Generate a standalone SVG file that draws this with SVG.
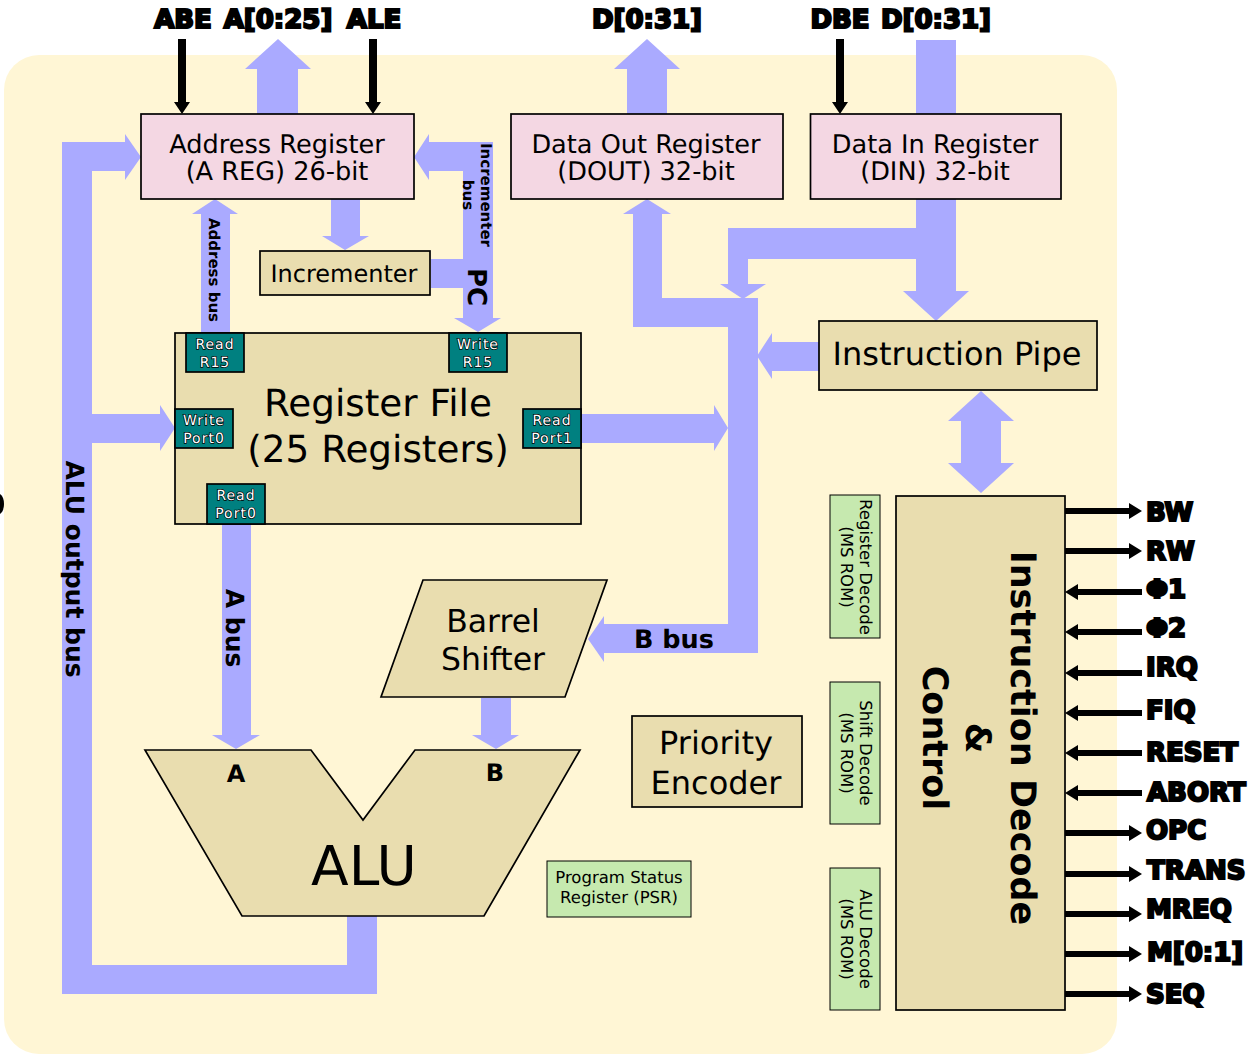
<svg xmlns="http://www.w3.org/2000/svg" width="1250" height="1055" viewBox="0 0 1250 1055">
<style>
text{font-family:"DejaVu Sans",sans-serif;fill:#000;text-anchor:middle;text-rendering:geometricPrecision}
.bus{fill:#aaaaff}
.wire{fill:#000}
.reg{fill:#f4d7e3;stroke:#000;stroke-width:1.7}
.blk{fill:#e9ddaf;stroke:#000;stroke-width:1.7}
.rom{fill:#c6e9af;stroke:#000;stroke-width:1}
.port{fill:#008080;stroke:#000;stroke-width:1.7}
.ptxt{font-size:14px;letter-spacing:1px;fill:#fff;stroke:#000;stroke-width:1.4;paint-order:stroke}
.pin{font-size:26px;font-weight:bold;stroke:#000;stroke-width:2.2}
.pinl{font-size:26px;font-weight:bold;stroke:#000;stroke-width:2.2;text-anchor:start}
.lb{font-size:25.6px}
.lbb{font-weight:bold}
</style>
<rect x="4" y="55" width="1113" height="999" rx="35" fill="#fff6d5"/>
<g id="connectors">
<path class="bus" d="M257 114V69H245L278 39L311 69H298V114Z"/>
<path class="bus" d="M627 114V69H614L647 39L680 69H667V114Z"/>
<path class="bus" d="M916 40H956V291H969L936 321L903 291H916V259H748V284H766L743 299L720 284H728V228H916Z"/>
<path class="bus" d="M62 142H125V134L141 157L125 180V171H92V414H160V405L175 428L160 451V443H92V965H347V916H377V994H62Z"/>
<path class="bus" d="M201 333V214H192L215 199L238 214H230V333Z"/>
<path class="bus" d="M331 199H360V236H369L345 250L322 236H331Z"/>
<path class="bus" d="M493 142V318H501L478 332L454 318H463V288H431V259H463V171H429V180L414 157L429 134V142Z"/>
<path class="bus" d="M222 524H251V735H260L236 749L212 735H222Z"/>
<path class="bus" d="M481 698H511V735H519L496 749L472 735H481Z"/>
<path class="bus" d="M581 414H714V405L728 428L714 451V443H581Z"/>
<path class="bus" d="M633 327V214H623L647 199L671 214H662V298H758V653H604V662L588 639L604 616V624H728V327Z"/>
<path class="bus" d="M819 342V371H772V379L757 356L772 333V342Z"/>
<path class="bus" d="M961 463H948L981 493L1014 463H1001V421H1014L981 391L948 421H961Z"/>
<path class="wire" d="M178 39H186V102H190L182 114L174 102H178Z"/>
<path class="wire" d="M369 39H377V102H381L373 114L365 102H369Z"/>
<path class="wire" d="M836 39H844V102H848L840 114L832 102H836Z"/>
<path class="wire" d="M1065 508H1129V503L1142 511L1129 519V514H1065Z"/>
<path class="wire" d="M1065 548H1129V543L1142 551L1129 559V554H1065Z"/>
<path class="wire" d="M1142 589H1078V584L1065 592L1078 600V595H1142Z"/>
<path class="wire" d="M1142 629H1078V624L1065 632L1078 640V635H1142Z"/>
<path class="wire" d="M1142 670H1078V665L1065 673L1078 681V676H1142Z"/>
<path class="wire" d="M1142 710H1078V705L1065 713L1078 721V716H1142Z"/>
<path class="wire" d="M1142 750H1078V745L1065 753L1078 761V756H1142Z"/>
<path class="wire" d="M1142 790H1078V785L1065 793L1078 801V796H1142Z"/>
<path class="wire" d="M1065 830H1129V825L1142 833L1129 841V836H1065Z"/>
<path class="wire" d="M1065 871H1129V866L1142 874L1129 882V877H1065Z"/>
<path class="wire" d="M1065 911H1129V906L1142 914L1129 922V917H1065Z"/>
<path class="wire" d="M1065 951H1129V946L1142 954L1129 962V957H1065Z"/>
<path class="wire" d="M1065 991H1129V986L1142 994L1129 1002V997H1065Z"/>
</g>
<g id="pins-top">
<text class="pin" x="183" y="28">ABE</text>
<text class="pin" x="278" y="28">A[0:25]</text>
<text class="pin" x="374" y="28">ALE</text>
<text class="pin" x="647" y="28">D[0:31]</text>
<text class="pin" x="840" y="28">DBE</text>
<text class="pin" x="936" y="28">D[0:31]</text>
</g>
<g id="pins-right">
<text class="pinl" x="1146" y="521">BW</text>
<text class="pinl" x="1146" y="560">RW</text>
<text class="pinl" x="1146" y="598">Φ1</text>
<text class="pinl" x="1146" y="637">Φ2</text>
<text class="pinl" x="1146" y="676">IRQ</text>
<text class="pinl" x="1146" y="719">FIQ</text>
<text class="pinl" x="1146" y="761">RESET</text>
<text class="pinl" x="1147" y="801">ABORT</text>
<text class="pinl" x="1146" y="839">OPC</text>
<text class="pinl" x="1147" y="879">TRANS</text>
<text class="pinl" x="1146" y="918">MREQ</text>
<text class="pinl" x="1147" y="961">M[0:1]</text>
<text class="pinl" x="1146" y="1003">SEQ</text>
</g>
<g id="addr-reg"><rect class="reg" x="141" y="114" width="273" height="85"/><text class="lb" x="277" y="153">Address Register</text><text class="lb" x="277" y="180">(A REG) 26-bit</text></g>
<g id="dout-reg"><rect class="reg" x="511" y="114" width="272" height="85"/><text class="lb" x="646" y="153">Data Out Register</text><text class="lb" x="646" y="180">(DOUT) 32-bit</text></g>
<g id="din-reg"><rect class="reg" x="810.500" y="114" width="250.500" height="85"/><text class="lb" x="935" y="153">Data In Register</text><text class="lb" x="935" y="180">(DIN) 32-bit</text></g>
<g id="incrementer"><rect class="blk" x="260" y="251" width="170" height="44"/><text font-size="24" x="344" y="282">Incrementer</text></g>
<g id="register-file"><rect class="blk" x="175" y="333" width="406" height="191"/><text x="378" y="416" font-size="37.3">Register File</text><text x="378" y="462" font-size="37.3">(25 Registers)</text>
<rect class="port" x="186" y="333" width="58" height="39"/><text class="ptxt" x="215" y="349">Read</text><text class="ptxt" x="215" y="367">R15</text>
<rect class="port" x="449" y="333" width="58" height="39"/><text class="ptxt" x="478" y="349">Write</text><text class="ptxt" x="478" y="367">R15</text>
<rect class="port" x="175" y="409" width="58" height="39"/><text class="ptxt" x="204" y="425">Write</text><text class="ptxt" x="204" y="443">Port0</text>
<rect class="port" x="523" y="409" width="58" height="39"/><text class="ptxt" x="552" y="425">Read</text><text class="ptxt" x="552" y="443">Port1</text>
<rect class="port" x="207" y="484" width="58" height="40"/><text class="ptxt" x="236" y="500">Read</text><text class="ptxt" x="236" y="518">Port0</text></g>
<g id="instruction-pipe"><rect class="blk" x="819" y="321" width="278" height="69"/><text x="957" y="365" font-size="32">Instruction Pipe</text></g>
<g id="barrel-shifter"><path class="blk" d="M423 580H607L565 697H381Z"/><text x="493" y="632" font-size="31.5">Barrel</text><text x="493" y="670" font-size="31.5">Shifter</text></g>
<g id="priority-encoder"><rect class="blk" x="632" y="716" width="170" height="91"/><text x="716" y="754" font-size="32">Priority</text><text x="716" y="794" font-size="32">Encoder</text></g>
<g id="alu"><path class="blk" d="M145 750H311L363 820L415 750H580L484 916H242Z"/><text x="364" y="885" font-size="55">ALU</text><text class="lbb" x="236" y="782" font-size="24">A</text><text class="lbb" x="495" y="781" font-size="24">B</text></g>
<g id="psr"><rect class="rom" x="547" y="861" width="144" height="56"/><text x="619" y="883" font-size="16.5">Program Status</text><text x="619" y="903" font-size="16.5">Register (PSR)</text></g>
<g id="reg-decode"><rect class="rom" x="830" y="495" width="50" height="143"/><text font-size="16.5" transform="translate(860 567) rotate(90)">Register Decode</text><text font-size="16.5" transform="translate(841 567) rotate(90)">(MS ROM)</text></g>
<g id="shift-decode"><rect class="rom" x="830" y="682" width="50" height="142"/><text font-size="16.5" transform="translate(860 753) rotate(90)">Shift Decode</text><text font-size="16.5" transform="translate(841 753) rotate(90)">(MS ROM)</text></g>
<g id="alu-decode"><rect class="rom" x="830" y="868" width="50" height="142"/><text font-size="16.5" transform="translate(860 939) rotate(90)">ALU Decode</text><text font-size="16.5" transform="translate(841 939) rotate(90)">(MS ROM)</text></g>
<g id="instruction-decode"><rect class="blk" x="896" y="496" width="169" height="514"/><text class="lbb" font-size="35" transform="translate(1011 738) rotate(90)">Instruction Decode</text><text class="lbb" font-size="35" transform="translate(966 738) rotate(90)">&amp;</text><text class="lbb" font-size="35" transform="translate(923 738) rotate(90)">Control</text></g>
<g id="bus-labels">
<text class="lbb" font-size="15" transform="translate(481 195) rotate(90)">Incrementer</text>
<text class="lbb" font-size="15" transform="translate(463 195) rotate(90)">bus</text>
<text class="lbb" font-size="15" transform="translate(209 270) rotate(90)">Address bus</text>
<text class="lbb" font-size="26" transform="translate(468 287) rotate(90)">PC</text>
<text class="lbb" font-size="25" transform="translate(226 628) rotate(90)">A bus</text>
<text class="lbb" font-size="25.5" x="674" y="648">B bus</text>
<text class="lbb" font-size="25" transform="translate(66 569) rotate(90)">ALU output bus</text>
</g>
<path d="M0 494C3 496 4 500 4 504C4 508 3 512 0 514Z" fill="#000"/>
</svg>
